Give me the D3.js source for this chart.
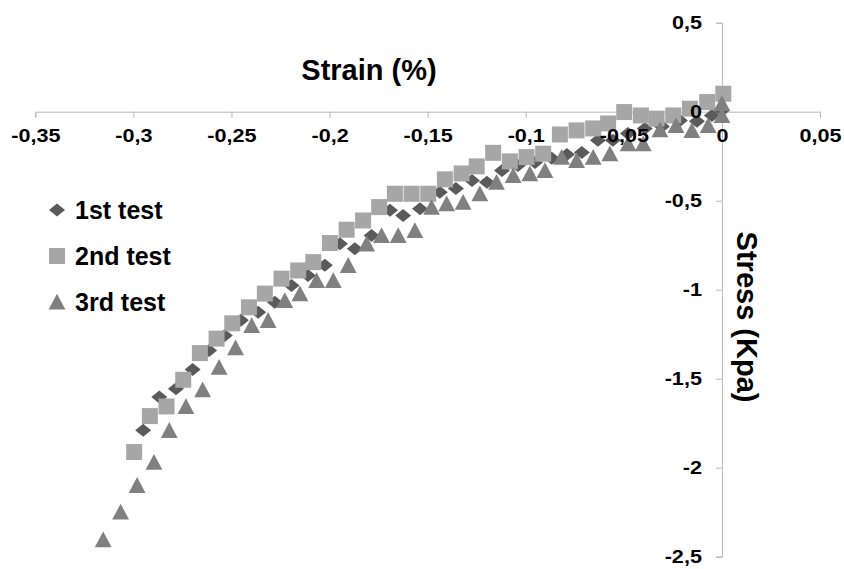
<!DOCTYPE html>
<html>
<head>
<meta charset="utf-8">
<script src="https://cdn.jsdelivr.net/npm/d3@7"></script>
<style>
  html, body { margin: 0; padding: 0; background: #ffffff; }
  svg { display: block; font-family: "Liberation Sans", Arial, sans-serif; font-weight: bold; }
</style>
</head>
<body>
<svg id="chart" width="844" height="569"></svg>
<script>
// ---- data (strain in %, stress in Kpa) ----
const seriesNames = ["1st test", "2nd test", "3rd test"];

const test1Strain = [-0.2950,-0.2868,-0.2783,-0.2698,-0.2614,-0.2534,-0.2452,-0.2364,-0.2279,-0.2194,-0.2110,-0.2024,-0.1947,-0.1871,-0.1786,-0.1692,-0.1625,-0.1539,-0.1438,-0.1356,-0.1274,-0.1198,-0.1121,-0.1040,-0.0953,-0.0867,-0.0790,-0.0714,-0.0632,-0.0556,-0.0479,-0.0393,-0.0306,-0.0214,-0.0127,-0.0051,0.0000];
const test1Stress = [-1.790,-1.603,-1.557,-1.448,-1.341,-1.257,-1.172,-1.126,-1.070,-0.976,-0.920,-0.863,-0.742,-0.770,-0.695,-0.554,-0.583,-0.545,-0.453,-0.431,-0.386,-0.397,-0.330,-0.302,-0.285,-0.262,-0.240,-0.229,-0.161,-0.161,-0.122,-0.094,-0.083,-0.049,-0.054,-0.021,0.007];

const test2Strain = [-0.2996,-0.2916,-0.2831,-0.2746,-0.2661,-0.2576,-0.2496,-0.2411,-0.2330,-0.2245,-0.2160,-0.2083,-0.1998,-0.1913,-0.1829,-0.1747,-0.1667,-0.1582,-0.1497,-0.1412,-0.1327,-0.1250,-0.1166,-0.1081,-0.0996,-0.0911,-0.0826,-0.0741,-0.0656,-0.0580,-0.0498,-0.0413,-0.0333,-0.0248,-0.0163,-0.0075,0.0007];
const test2Stress = [-1.912,-1.710,-1.656,-1.506,-1.356,-1.275,-1.189,-1.099,-1.022,-0.938,-0.892,-0.845,-0.738,-0.663,-0.611,-0.536,-0.461,-0.461,-0.461,-0.380,-0.347,-0.307,-0.231,-0.279,-0.255,-0.236,-0.128,-0.105,-0.094,-0.066,-0.002,-0.021,-0.039,-0.021,0.017,0.054,0.101];

const test3Strain = [-0.3154,-0.3065,-0.2981,-0.2895,-0.2817,-0.2732,-0.2647,-0.2563,-0.2479,-0.2397,-0.2313,-0.2228,-0.2151,-0.2066,-0.1981,-0.1905,-0.1811,-0.1735,-0.1650,-0.1565,-0.1480,-0.1403,-0.1319,-0.1234,-0.1149,-0.1064,-0.0979,-0.0902,-0.0817,-0.0741,-0.0656,-0.0571,-0.0478,-0.0401,-0.0316,-0.0234,-0.0153,-0.0070,0.0000,0.0000];
const test3Stress = [-2.404,-2.249,-2.099,-1.969,-1.790,-1.656,-1.562,-1.435,-1.326,-1.201,-1.172,-1.060,-1.022,-0.948,-0.948,-0.863,-0.742,-0.695,-0.695,-0.667,-0.536,-0.517,-0.508,-0.461,-0.396,-0.358,-0.348,-0.330,-0.255,-0.274,-0.255,-0.236,-0.180,-0.180,-0.101,-0.077,-0.105,-0.077,-0.021,0.047];

const xTickValues = [-0.35,-0.3,-0.25,-0.2,-0.15,-0.1,-0.05,0,0.05];
const xTickLabels = ["-0,35","-0,3","-0,25","-0,2","-0,15","-0,1","-0,05","0","0,05"];
const yTickValues = [0.5,0,-0.5,-1,-1.5,-2,-2.5];
const yTickLabels = ["0,5","0","-0,5","-1","-1,5","-2","-2,5"];

const xTitle = "Strain (%)";
const yTitle = "Stress (Kpa)";

// ---- layout ----
const svg = d3.select("#chart");
const x = d3.scaleLinear().domain([-0.35, 0.05]).range([35.3, 820]);
const y = d3.scaleLinear().domain([-2.5, 0.5]).range([556.7, 22.7]);

const axisColor = "#b8b8b8";
const colors = ["#5a5a5a", "#a6a6a6", "#808080"];
const shapes = [
  "M0,-6.5L8,0L0,6.5L-8,0Z",          // diamond
  "M-8,-8H8V8H-8Z",                    // square
  "M0,-8.2L8.4,7.6L-8.4,7.6Z"          // triangle
];

const xLabelMap = new Map(xTickValues.map((v, i) => [v, xTickLabels[i]]));
const yLabelMap = new Map(yTickValues.map((v, i) => [v, yTickLabels[i]]));

// axis lines & ticks (below markers)
const gxLines = svg.append("g").attr("transform", `translate(0,${y(0)})`)
  .call(d3.axisBottom(x).tickValues(xTickValues).tickSize(6).tickFormat(""));
const gyLines = svg.append("g").attr("transform", `translate(${x(0)},0)`)
  .call(d3.axisLeft(y).tickValues(yTickValues).tickSize(6).tickFormat(""));
[gxLines, gyLines].forEach(g => {
  g.select(".domain").attr("stroke", axisColor).attr("stroke-width", 1);
  g.selectAll(".tick line").attr("stroke", axisColor).attr("stroke-width", 1);
});

// markers
const series = [
  {strain: test1Strain, stress: test1Stress},
  {strain: test2Strain, stress: test2Stress},
  {strain: test3Strain, stress: test3Stress}
];
series.forEach((s, si) => {
  const pts = s.strain.map((v, i) => [v, s.stress[i]]);
  svg.append("g").selectAll("path").data(pts).join("path")
    .attr("d", shapes[si])
    .attr("transform", d => `translate(${x(d[0])},${y(d[1])})`)
    .attr("fill", colors[si]);
});

// tick labels (above markers)
const stretch = 1.2;
const gxText = svg.append("g").attr("transform", `translate(0,${y(0)})`)
  .call(d3.axisBottom(x).tickValues(xTickValues).tickSize(0).tickPadding(18)
    .tickFormat(d => xLabelMap.get(d)));
const gyText = svg.append("g").attr("transform", `translate(${x(0)},0)`)
  .call(d3.axisLeft(y).tickValues(yTickValues).tickSize(0).tickPadding(20)
    .tickFormat(d => yLabelMap.get(d)));
[gxText, gyText].forEach(g => {
  g.select(".domain").remove();
  g.selectAll(".tick line").remove();
  g.selectAll(".tick text")
    .attr("font-family", "'Liberation Sans', Arial, sans-serif")
    .attr("font-weight", "bold")
    .attr("font-size", 18)
    .attr("fill", "#000")
    .each(function() {
      const w = this.getComputedTextLength();
      d3.select(this).attr("textLength", w * stretch).attr("lengthAdjust", "spacingAndGlyphs");
    });
});

// axis titles
svg.append("text")
  .attr("x", 369).attr("y", 80)
  .attr("text-anchor", "middle")
  .attr("font-size", 29).attr("font-weight", "bold").attr("fill", "#000")
  .text(xTitle);
svg.append("text")
  .attr("transform", "translate(737,317) rotate(90)")
  .attr("text-anchor", "middle")
  .attr("font-size", 29).attr("font-weight", "bold").attr("fill", "#000")
  .text(yTitle);

// legend
const legendY = [210, 256, 302];
const legend = svg.append("g");
seriesNames.forEach((name, i) => {
  legend.append("path")
    .attr("d", shapes[i])
    .attr("transform", `translate(57,${legendY[i]})`)
    .attr("fill", colors[i]);
  legend.append("text")
    .attr("x", 75).attr("y", legendY[i] + 9)
    .attr("font-size", 25).attr("font-weight", "bold").attr("fill", "#000")
    .text(name);
});
</script>
</body>
</html>
